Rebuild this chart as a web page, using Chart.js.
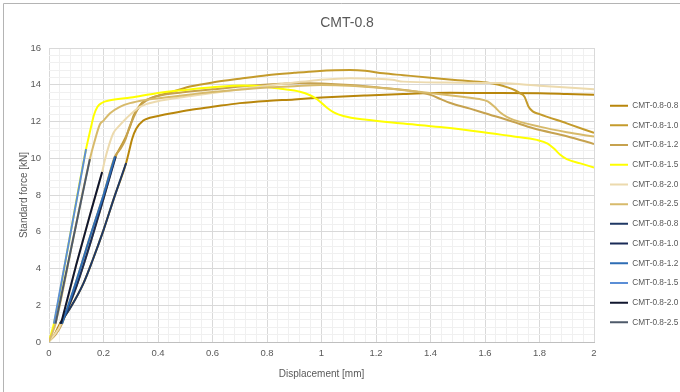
<!DOCTYPE html>
<html>
<head>
<meta charset="utf-8">
<title>CMT-0.8</title>
<script src="https://cdn.jsdelivr.net/npm/chart.js@4.4.1/dist/chart.umd.min.js"></script>
<style>
  html, body { margin: 0; padding: 0; background: #ffffff; }
  #contenedor { position: relative; width: 680px; height: 392px; }
</style>
</head>
<body>
<div id="contenedor"><canvas id="graficoCMT"></canvas></div>
<script>
// --- DATOS ---
const seriesLabels = ["CMT-0.8-0.8", "CMT-0.8-1.0", "CMT-0.8-1.2", "CMT-0.8-1.5", "CMT-0.8-2.0", "CMT-0.8-2.5"];
const xTickLabels = ["0", "0.2", "0.4", "0.6", "0.8", "1", "1.2", "1.4", "1.6", "1.8", "2"];
const yTickLabels = ["0", "2", "4", "6", "8", "10", "12", "14", "16"];

// inicio de cada ensayo: desde el origen hasta ~1 kN  [mm, kN]
const toe08 = [[0, 0.05], [0.02, 0.4]];
const toe10 = [[0, 0.05], [0.022, 0.4]];
const toe12 = [[0, 0.05], [0.024, 0.4]];
const toe15 = [[0, 0.05], [0.008, 0.45]];
const toe20 = [[0, 0.05], [0.02, 0.4]];
const toe25 = [[0, 0.05], [0.01, 0.4]];

// tramo elástico
const elastic08 = [[0.04, 1.0], [0.08, 1.9], [0.126, 3.18], [0.16, 4.45], [0.2, 6.09], [0.24, 7.9], [0.283, 9.74]];
const elastic10 = [[0.046, 1.0], [0.1, 3.0], [0.15, 5.3], [0.2, 7.8], [0.245, 10.1]];
const elastic12 = [[0.048, 1.0], [0.1, 3.3], [0.15, 5.7], [0.2, 8.0], [0.242, 10.1]];
const elastic15 = [[0.018, 1.0], [0.075, 5.6], [0.136, 10.5]];
const elastic20 = [[0.044, 1.0], [0.1, 4.2], [0.15, 6.9], [0.195, 9.25]];
const elastic25 = [[0.024, 1.0], [0.087, 5.5], [0.15, 9.95]];

// tramo plástico hasta 2 mm
const plastic08 = [[0.295, 10.45], [0.305, 11.05], [0.32, 11.6], [0.346, 12.05], [0.37, 12.2], [0.4, 12.3], [0.45, 12.45],
  [0.517, 12.63], [0.6, 12.8], [0.7, 13.0], [0.8, 13.12], [0.9, 13.2], [1.0, 13.3], [1.166, 13.42], [1.3, 13.5],
  [1.47, 13.56], [1.6, 13.55], [1.8, 13.54], [1.9, 13.5], [2.0, 13.45]];
const plastic10 = [[0.262, 10.6], [0.28, 11.1], [0.297, 11.7], [0.31, 12.3], [0.325, 12.7], [0.34, 13.0], [0.358, 13.18],
  [0.395, 13.38], [0.45, 13.6], [0.517, 13.9], [0.615, 14.16], [0.7, 14.33], [0.8, 14.52], [0.9, 14.65], [0.982, 14.74],
  [1.105, 14.8], [1.16, 14.76], [1.227, 14.62], [1.3, 14.52], [1.41, 14.37], [1.5, 14.25], [1.606, 14.12], [1.65, 14.0],
  [1.68, 13.87], [1.71, 13.7], [1.728, 13.54], [1.745, 13.35], [1.752, 13.1], [1.76, 12.8], [1.775, 12.55], [1.8, 12.4],
  [1.9, 11.9], [2.0, 11.38]];
const plastic12 = [[0.262, 10.5], [0.28, 11.0], [0.295, 11.7], [0.31, 12.2], [0.325, 12.65], [0.345, 13.0], [0.37, 13.25],
  [0.42, 13.45], [0.5, 13.6], [0.6, 13.75], [0.738, 13.94], [0.85, 14.05], [0.921, 14.1], [1.0, 14.07], [1.105, 13.98],
  [1.227, 13.82], [1.35, 13.62], [1.4, 13.45], [1.44, 13.2], [1.47, 13.02], [1.545, 12.7], [1.6, 12.45], [1.7, 12.0],
  [1.777, 11.63], [1.9, 11.2], [2.0, 10.78]];
const plastic15 = [[0.145, 11.1], [0.155, 11.75], [0.165, 12.35], [0.178, 12.8], [0.195, 13.02], [0.22, 13.14], [0.3, 13.3],
  [0.395, 13.54], [0.5, 13.72], [0.6, 13.86], [0.712, 13.96], [0.8, 13.88], [0.85, 13.78], [0.921, 13.62], [0.958, 13.43],
  [0.985, 13.2], [1.02, 12.75], [1.045, 12.5], [1.08, 12.3], [1.166, 12.09], [1.288, 11.9], [1.435, 11.7], [1.594, 11.42],
  [1.7, 11.2], [1.79, 11.0], [1.83, 10.8], [1.855, 10.5], [1.875, 10.2], [1.9, 9.95], [1.95, 9.72], [2.0, 9.5]];
const plastic20 = [[0.205, 9.9], [0.22, 10.7], [0.236, 11.36], [0.26, 11.8], [0.284, 12.18], [0.334, 12.8], [0.395, 13.09],
  [0.5, 13.35], [0.6, 13.55], [0.7, 13.75], [0.8, 13.95], [0.9, 14.12], [0.982, 14.25], [1.105, 14.36], [1.2, 14.33],
  [1.26, 14.27], [1.3, 14.17], [1.45, 14.12], [1.655, 14.09], [1.8, 13.95], [2.0, 13.76]];
const plastic25 = [[0.165, 10.8], [0.187, 11.85], [0.2, 12.05], [0.224, 12.45], [0.26, 12.8], [0.297, 13.0], [0.358, 13.18],
  [0.45, 13.35], [0.6, 13.6], [0.75, 13.8], [0.9, 13.92], [1.0, 13.98], [1.1, 13.95], [1.2, 13.85], [1.35, 13.63],
  [1.508, 13.36], [1.58, 13.22], [1.61, 13.1], [1.635, 12.8], [1.655, 12.5], [1.68, 12.25], [1.705, 12.09], [1.8, 11.72],
  [1.9, 11.42], [2.0, 11.18]];

// --- ESTILO ---
const FUENTE = "'Liberation Sans', Arial, sans-serif";
const TEXTO = "#595959";
const GRID_MAYOR = "#d9d9d9";
const GRID_MENOR = "#f0f0f0";
const coloresOro = ["#B8860B", "#C49B2C", "#C6A24F", "#FFFF00", "#ECDAAE", "#D7BA6B"];
const coloresAzul = ["#1F3864", "#1A2B57", "#2E6DB4", "#5B8ED6", "#10162E", "#4E5A6A"];

document.addEventListener("DOMContentLoaded", function () {
  Chart.defaults.font.family = FUENTE;
  Chart.defaults.color = TEXTO;

  const curvasCompletas = [
    [...toe08, ...elastic08, ...plastic08],
    [...toe10, ...elastic10, ...plastic10],
    [...toe12, ...elastic12, ...plastic12],
    [...toe15, ...elastic15, ...plastic15],
    [...toe20, ...elastic20, ...plastic20],
    [...toe25, ...elastic25, ...plastic25],
  ];
  const tramosElasticos = [elastic08, elastic10, elastic12, elastic15, elastic20, elastic25];

  const serie = (label, data, color, order) => ({
    label: label,
    data: data,
    borderColor: color,
    backgroundColor: color,
    borderWidth: 2,
    pointRadius: 0,
    showLine: true,
    fill: false,
    cubicInterpolationMode: "monotone",
    order: order,
  });

  // las series azules van encima de las doradas (como en Excel, la última encima)
  const datasets = [];
  curvasCompletas.forEach((d, i) => datasets.push(serie(seriesLabels[i], d, coloresOro[i], 20 - i)));
  tramosElasticos.forEach((d, i) => datasets.push(serie(seriesLabels[i], d, coloresAzul[i], 14 - i)));

  const esMayor = (v, paso) => Math.abs(v / paso - Math.round(v / paso)) < 1e-6;
  const etiqueta = (v, paso, lista) => (esMayor(v, paso) ? lista[Math.round(v / paso)] : "");
  const colorGrid = (ctx, paso) => {
    const v = ctx.tick ? ctx.tick.value : 0;
    return esMayor(v, paso) ? GRID_MAYOR : GRID_MENOR;
  };

  // marco del gráfico y pequeños ajustes de posición
  const marco = {
    id: "marco",
    afterLayout(chart) {
      chart.legend.left += 4.6;
      chart.legend.right += 4.6;
      chart.legend.top += 16;
      chart.legend.bottom += 16;
      chart.titleBlock.left += 5;
      chart.titleBlock.right += 5;
    },
    beforeDraw(chart) {
      const c = chart.ctx;
      c.save();
      c.strokeStyle = "#b4b4b4";
      c.lineWidth = 1;
      c.beginPath();
      c.moveTo(3.5, chart.height);
      c.lineTo(3.5, 3.5);
      c.lineTo(chart.width, 3.5);
      c.stroke();
      c.restore();
    },
  };

  const ctx = document.getElementById("graficoCMT").getContext("2d");
  new Chart(ctx, {
    type: "scatter",
    data: { datasets: datasets },
    options: {
      responsive: true,
      maintainAspectRatio: false,
      animation: false,
      layout: { padding: { top: 4, left: 4, right: 0, bottom: 0 } },
      scales: {
        x: {
          type: "linear",
          min: 0,
          max: 2,
          ticks: {
            stepSize: 0.04,
            autoSkip: false,
            maxRotation: 0,
            minRotation: 0,
            padding: 6,
            color: TEXTO,
            font: { size: 9.5 },
            callback: (v) => etiqueta(v, 0.2, xTickLabels),
          },
          grid: { color: (c) => colorGrid(c, 0.2), drawTicks: false },
          border: { color: "#bfbfbf" },
          title: {
            display: true,
            text: "Displacement [mm]",
            color: TEXTO,
            font: { size: 10 },
            padding: { top: 0, bottom: 12 },
          },
          afterFit: (s) => { s.height = 50; },
        },
        y: {
          type: "linear",
          min: 0,
          max: 16,
          ticks: {
            stepSize: 0.4,
            autoSkip: false,
            padding: 8,
            color: TEXTO,
            font: { size: 9.5 },
            callback: (v) => etiqueta(v, 2, yTickLabels),
          },
          grid: {
            color: (c) => (c.tick && c.tick.value === 0 ? "#bfbfbf" : colorGrid(c, 2)),
            drawTicks: false,
          },
          border: { display: false },
          title: {
            display: true,
            text: "Standard force [kN]",
            color: TEXTO,
            font: { size: 10 },
            padding: { top: 14.5, bottom: 0 },
          },
          afterFit: (s) => { s.width = 45; },
        },
      },
      plugins: {
        title: {
          display: true,
          text: "CMT-0.8",
          color: TEXTO,
          font: { size: 14, weight: "normal" },
          padding: { top: 10.6, bottom: 16.6 },
        },
        legend: {
          position: "right",
          align: "center",
          maxWidth: 86,
          labels: {
            usePointStyle: true,
            pointStyle: "line",
            pointStyleWidth: 18,
            boxHeight: 8.3,
            padding: 11.4,
            color: TEXTO,
            font: { size: 8.3 },
            sort: (a, b) => a.datasetIndex - b.datasetIndex,
          },
        },
        tooltip: { enabled: false },
      },
    },
    plugins: [marco],
  });
});
</script>
</body>
</html>
